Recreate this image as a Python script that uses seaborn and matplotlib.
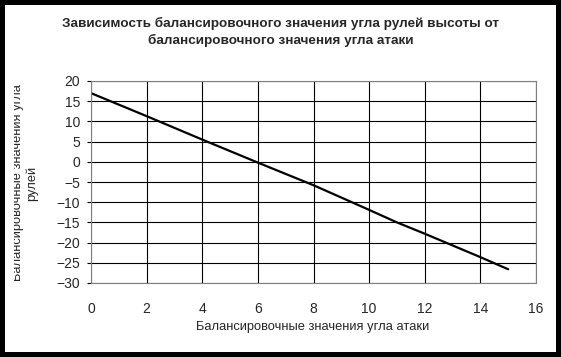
import matplotlib
matplotlib.use("Agg")
import pandas as pd
import seaborn as sns
import matplotlib.pyplot as plt
from matplotlib.patches import Rectangle

# data
alpha = [0, 2, 4, 6, 7, 8, 10, 11, 12, 14, 15]
delta = [17, 11.3, 5.5, -0.2, -3.0, -5.8, -11.9, -15.0, -17.8, -23.6, -26.6]
x_ticks = [0, 2, 4, 6, 8, 10, 12, 14, 16]
y_ticks = [20, 15, 10, 5, 0, -5, -10, -15, -20, -25, -30]

title = "Зависимость балансировочного значения угла рулей высоты от\nбалансировочного значения угла атаки"
x_label = "Балансировочные значения угла атаки"
y_label = "Балансировочные значения угла\nрулей"

df = pd.DataFrame({"alpha": alpha, "delta": delta})

sns.set_style("white")
plt.rcParams['font.family'] = ['Liberation Sans', 'DejaVu Sans']

W, H = 561, 357
fig = plt.figure(figsize=(W / 100, H / 100), dpi=100)
fig.patch.set_facecolor("white")
ax = fig.add_axes([91 / W, 1 - 283 / H, (536 - 91) / W, (283 - 81) / H])

sns.lineplot(data=df, x="alpha", y="delta", ax=ax, color="black", linewidth=1.6)

ax.set_xlim(0, 16)
ax.set_ylim(-30, 20)
ax.set_xticks(x_ticks)
ax.set_yticks(y_ticks)
ax.grid(True, color="black", linewidth=0.8)
ax.set_axisbelow(True)
for s in ax.spines.values():
    s.set_color("#808080")
    s.set_linewidth(0.8)
ax.tick_params(axis="y", length=3, width=0.8, color="black", pad=5, labelsize=10, left=True)
ax.tick_params(axis="x", length=0, pad=14, labelsize=10)
ax.set_xlabel("")
ax.set_ylabel("")

fig.text(280.5 / W, 1 - 32 / H, title, ha="center", va="center", fontsize=9.7,
         fontweight="bold", linespacing=1.45)
fig.text(313 / W, 1 - 327 / H, x_label, ha="center", va="center", fontsize=9.3)
fig.text(25 / W, 1 - 183 / H, y_label, ha="center", va="center", fontsize=9.3,
         rotation=90, multialignment="center", linespacing=1.2)

# white mask clipping the y label, then black outer frame
fig.add_artist(Rectangle((5 / W, 0), 9 / W, 1, transform=fig.transFigure,
                         facecolor="white", edgecolor="none", zorder=9))
for r in [(0, 0, 5, H), (W - 5, 0, 5, H), (0, 0, W, 5), (0, H - 5, W, 5)]:
    fig.add_artist(Rectangle((r[0] / W, r[1] / H), r[2] / W, r[3] / H,
                             transform=fig.transFigure, facecolor="black",
                             edgecolor="none", zorder=10))

fig.savefig("out.png", dpi=100)
